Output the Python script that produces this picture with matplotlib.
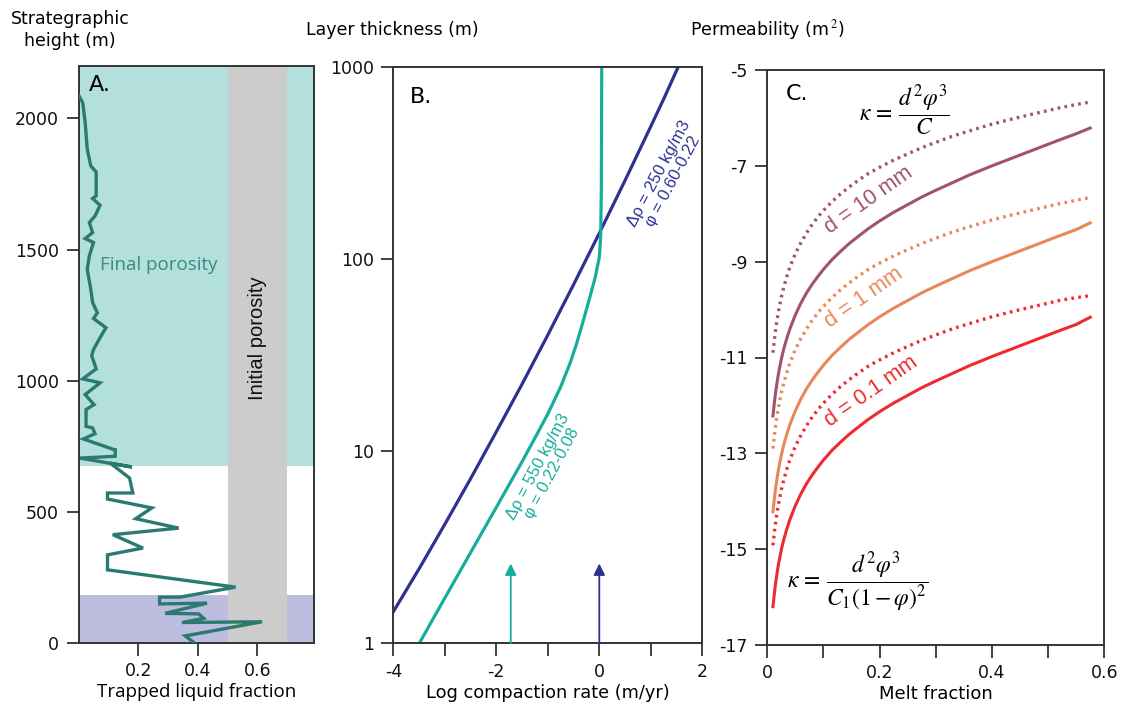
import matplotlib
matplotlib.use("Agg")
import matplotlib.pyplot as plt
import matplotlib.ticker as mticker

# ---------------- Panel A data ----------------
trapped_fraction = [0.0, 0.014, 0.022, 0.029, 0.041, 0.059, 0.059, 0.047, 0.072, 0.055,
                    0.036, 0.047, 0.022, 0.050, 0.036, 0.029, 0.041, 0.047, 0.063, 0.050,
                    0.092, 0.072, 0.050, 0.044, 0.059, 0.014, 0.072, 0.022, 0.052, 0.025,
                    0.025, 0.047, 0.055, 0.016, 0.120, 0.123, 0.123, 0.005, 0.179, 0.106,
                    0.171, 0.182, 0.097, 0.097, 0.246, 0.192, 0.336, 0.115, 0.216, 0.097,
                    0.097, 0.527, 0.341, 0.272, 0.272, 0.431, 0.291, 0.403, 0.420, 0.347,
                    0.616, 0.358, 0.389]
strat_height = [2089, 2059, 1985, 1883, 1819, 1796, 1705, 1695, 1669, 1628,
                1603, 1565, 1542, 1527, 1476, 1425, 1348, 1298, 1259, 1237,
                1202, 1164, 1119, 1096, 1045, 1007, 992, 947, 909, 890,
                826, 820, 798, 778, 737, 737, 712, 705, 671, 686,
                629, 572, 572, 549, 515, 474, 438, 413, 362, 336,
                279, 213, 175, 175, 149, 152, 113, 111, 94, 78,
                81, 27, 0]
final_band = (675, 2200)
lower_band = (0, 183)
initial_porosity = (0.5, 0.7)

# ---------------- Panel B data ----------------
rate_250 = [-4.0, -3.5, -3.0, -2.5, -2.0, -1.5, -1.0, -0.5, 0.0, 0.5, 1.0, 1.25, 1.534]
thick_250 = [1.46, 2.44, 4.16, 7.18, 12.6, 22.3, 40.2, 73.5, 136, 256, 489, 679, 1000]
rate_550 = [-3.495, -3.0, -2.5, -2.0, -1.5, -1.25, -1.0, -0.75, -0.569, -0.45, -0.342,
            -0.194, -0.083, 0.0, 0.027, 0.04, 0.047]
thick_550 = [1.0, 1.72, 2.96, 5.1, 8.8, 11.7, 15.6, 21.6, 28.6, 35.6, 44.6,
             61.7, 79.4, 102, 131, 240, 1000]
arrow_rates = [-1.72, 0.0]
arrow_tip = 2.6

# ---------------- Panel C data ----------------
melt = [0.01, 0.011, 0.0125, 0.015, 0.0175, 0.02, 0.025, 0.03, 0.035, 0.04, 0.05, 0.06,
        0.07, 0.08, 0.09, 0.1, 0.115, 0.13, 0.145, 0.16, 0.18, 0.2, 0.225, 0.25, 0.275,
        0.3, 0.33, 0.36, 0.4, 0.44, 0.48, 0.52, 0.55, 0.575]
k10_kc = [-12.22, -12.12, -11.95, -11.71, -11.51, -11.33, -11.03, -10.79, -10.59, -10.41,
          -10.11, -9.86, -9.65, -9.47, -9.31, -9.16, -8.96, -8.79, -8.63, -8.49, -8.31,
          -8.15, -7.97, -7.81, -7.65, -7.51, -7.35, -7.19, -7.00, -6.82, -6.64, -6.46,
          -6.33, -6.21]
k10_cz = [-10.90, -10.80, -10.64, -10.40, -10.20, -10.03, -9.74, -9.50, -9.30, -9.12,
          -8.83, -8.60, -8.40, -8.22, -8.07, -7.93, -7.75, -7.59, -7.45, -7.32, -7.16,
          -7.03, -6.88, -6.75, -6.62, -6.51, -6.38, -6.27, -6.13, -6.01, -5.90, -5.79,
          -5.72, -5.67]
k1_kc = [-14.22, -14.12, -13.95, -13.71, -13.51, -13.33, -13.03, -12.79, -12.59, -12.41,
         -12.11, -11.86, -11.65, -11.47, -11.31, -11.16, -10.96, -10.79, -10.63, -10.49,
         -10.31, -10.15, -9.97, -9.81, -9.65, -9.51, -9.35, -9.19, -9.00, -8.82, -8.64,
         -8.46, -8.33, -8.19]
k1_cz = [-12.90, -12.80, -12.64, -12.40, -12.20, -12.03, -11.74, -11.50, -11.30, -11.12,
         -10.83, -10.60, -10.40, -10.22, -10.07, -9.93, -9.75, -9.59, -9.45, -9.32, -9.16,
         -9.03, -8.88, -8.75, -8.62, -8.51, -8.38, -8.27, -8.13, -8.01, -7.90, -7.79,
         -7.72, -7.66]
k01_kc = [-16.20, -16.10, -15.93, -15.69, -15.49, -15.31, -15.01, -14.77, -14.57, -14.39,
          -14.09, -13.84, -13.63, -13.45, -13.29, -13.14, -12.94, -12.77, -12.61, -12.47,
          -12.29, -12.13, -11.95, -11.79, -11.63, -11.49, -11.33, -11.17, -10.98, -10.80,
          -10.62, -10.44, -10.31, -10.16]
k01_cz = [-14.92, -14.82, -14.66, -14.42, -14.22, -14.05, -13.76, -13.52, -13.32, -13.14,
          -12.85, -12.62, -12.42, -12.24, -12.09, -11.95, -11.77, -11.61, -11.47, -11.34,
          -11.18, -11.05, -10.90, -10.77, -10.64, -10.53, -10.40, -10.29, -10.15, -10.03,
          -9.92, -9.81, -9.75, -9.71]

# colours
c_line = "#2b7a6f"
c_teal_fill = "#b3dfdc"
c_purple_fill = "#bdbddf"
c_gray = "#cccccc"
c_navy = "#2e3192"
c_teal = "#17ad9c"
c_mauve = "#a0536a"
c_orange = "#e8875a"
c_red = "#ee2a30"
c_spine = "#333333"

plt.rcParams['font.family'] = ['DejaVu Sans']
plt.rcParams['mathtext.fontset'] = 'stix'

fig = plt.figure(figsize=(11.25, 7.14), dpi=100)
W, H = 1125, 714


def add_ax(l, r, t, b):
    return fig.add_axes([l / W, 1 - b / H, (r - l) / W, (b - t) / H])


axA = add_ax(78.6, 313.9, 66, 643)
axB = add_ax(393.3, 702.3, 66.7, 643.3)
axC = add_ax(767.3, 1104.3, 70, 645)

for ax in (axA, axB, axC):
    for s in ax.spines.values():
        s.set_color(c_spine)
        s.set_linewidth(1.4)
    ax.tick_params(which='both', direction='out', length=9, width=1.3, color=c_spine,
                   labelsize=12.5, labelcolor='#111111', pad=5)

# ---------- Panel A ----------
axA.axhspan(*final_band, color=c_teal_fill, lw=0, zorder=0)
axA.axhspan(*lower_band, color=c_purple_fill, lw=0, zorder=0)
axA.axvspan(*initial_porosity, color=c_gray, lw=0, zorder=1)
axA.plot(trapped_fraction, strat_height, color=c_line, lw=2.4, zorder=3,
         solid_joinstyle='miter')
axA.set_xlim(0, 0.79)
axA.set_ylim(0, 2200)
axA.set_xticks([0.2, 0.4, 0.6])
axA.set_xticklabels(['0.2', '0.4', '0.6'])
axA.set_yticks([0, 500, 1000, 1500, 2000])
axA.text(0.072, 1440, 'Final porosity', color='#3a8a80', fontsize=13.5,
         family='Open Sans', va='center', ha='left', zorder=4)
axA.text(0.6, 1161, 'Initial porosity', color='#111111', fontsize=14.5,
         family='Liberation Sans', rotation=90, va='center', ha='center', zorder=4)
axA.text(0.045, 0.985, 'A.', transform=axA.transAxes, fontsize=16, va='top', ha='left')
axA.set_xlabel('Trapped liquid fraction', fontsize=13.5, family='Open Sans', labelpad=2)

# ---------- Panel B ----------
axB.plot(rate_250, thick_250, color=c_navy, lw=2.3)
axB.plot(rate_550, thick_550, color=c_teal, lw=2.3)
for xr, col in zip(arrow_rates, [c_teal, c_navy]):
    axB.annotate('', xy=(xr, arrow_tip), xytext=(xr, 1.0),
                 arrowprops=dict(arrowstyle='-|>', color=col, lw=1.3,
                                 mutation_scale=17, shrinkA=0, shrinkB=0))
axB.set_yscale('log')
axB.set_xlim(-4, 2)
axB.set_ylim(1, 1000)
axB.set_yticks([1, 10, 100, 1000])
axB.set_yticklabels(['1', '10', '100', '1000'])
axB.yaxis.set_minor_locator(mticker.NullLocator())
axB.set_xticks([-4, -2, 0, 2])
axB.set_xticks([-3, -1, 1], minor=True)
axB.set_xticklabels(['-4', '-2', '0', '2'])
axB.text(0.055, 0.965, 'B.', transform=axB.transAxes, fontsize=16, va='top', ha='left')
axB.text(1.30, 265, 'Δρ = 250 kg/m3\nφ = 0.60-0.22', color=c_navy, fontsize=12,
         family='Liberation Sans', rotation=62, rotation_mode='anchor',
         ha='center', va='center', linespacing=1.05)
axB.text(-1.054, 7.97, 'Δρ = 550 kg/m3\nφ = 0.22-0.08', color=c_teal, fontsize=12,
         family='Liberation Sans', rotation=62, rotation_mode='anchor',
         ha='center', va='center', linespacing=1.05)
axB.set_xlabel('Log compaction rate (m/yr)', fontsize=12.8, labelpad=2)

# ---------- Panel C ----------
dot = (0, (0.8, 1.3))
axC.plot(melt, k10_cz, color=c_mauve, lw=2.4, ls=dot)
axC.plot(melt, k10_kc, color=c_mauve, lw=2.2)
axC.plot(melt, k1_cz, color=c_orange, lw=2.4, ls=dot)
axC.plot(melt, k1_kc, color=c_orange, lw=2.2)
axC.plot(melt, k01_cz, color=c_red, lw=2.4, ls=dot)
axC.plot(melt, k01_kc, color=c_red, lw=2.2)
axC.set_xlim(0, 0.6)
axC.set_ylim(-17, -5)
axC.set_xticks([0, 0.2, 0.4, 0.6])
axC.set_xticks([0.1, 0.3, 0.5], minor=True)
axC.set_xticklabels(['0', '0.2', '0.4', '0.6'])
axC.set_yticks(list(range(-17, -4, 2)))
axC.set_yticklabels([str(v) for v in range(-17, -4, 2)])
axC.text(0.055, 0.975, 'C.', transform=axC.transAxes, fontsize=16, va='top', ha='left')
axC.text(0.245, -5.83, r'$\kappa\,=\,\dfrac{d^2\varphi^3}{C}$', fontsize=17,
         ha='center', va='center')
axC.text(0.16, -15.67, r'$\kappa\,=\,\dfrac{d^2\varphi^3}{C_1(1-\varphi)^2}$', fontsize=17,
         ha='center', va='center')
axC.text(0.181, -7.71, 'd = 10 mm', color=c_mauve, fontsize=15.5, family='Liberation Sans',
         rotation=35, ha='center', va='center')
axC.text(0.172, -9.75, 'd = 1 mm', color=c_orange, fontsize=15.5, family='Liberation Sans',
         rotation=35, ha='center', va='center')
axC.text(0.185, -11.7, 'd = 0.1 mm', color=c_red, fontsize=15.5, family='Liberation Sans',
         rotation=35, ha='center', va='center')
axC.set_xlabel('Melt fraction', fontsize=13, labelpad=2)

# ---------- headers ----------
fig.text(70 / W, 1 - 30 / H, 'Strategraphic\nheight (m)', ha='center', va='center',
         fontsize=12.5, linespacing=1.25)
fig.text(306 / W, 1 - 30 / H, 'Layer thickness (m)', ha='left', va='center', fontsize=12.5)
fig.text(690 / W, 1 - 30 / H, 'Permeability (m$^{\\,2}$)', ha='left', va='center', fontsize=12.5)

fig.savefig('out.png', dpi=100)
